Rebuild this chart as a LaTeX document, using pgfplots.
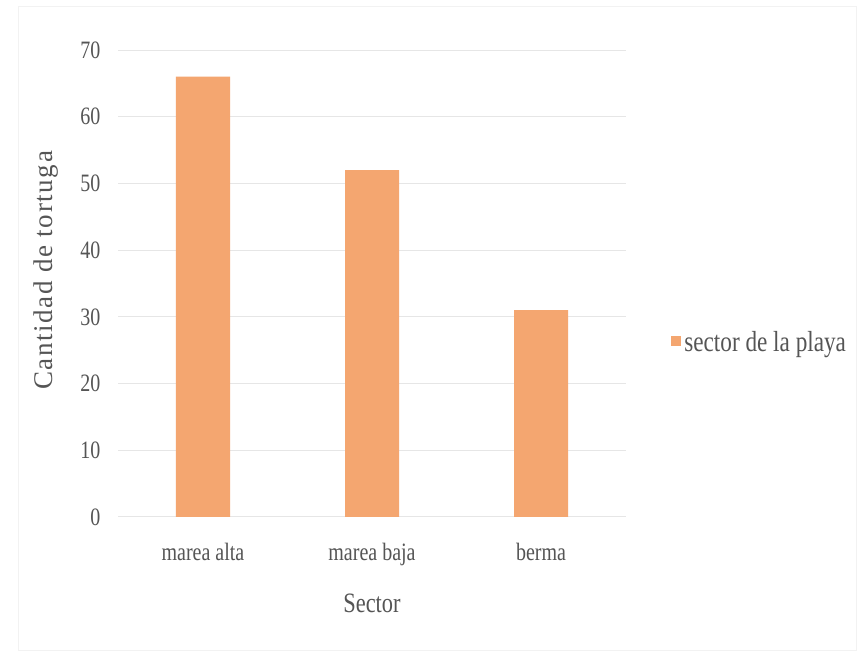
\documentclass[border=0pt]{standalone}
\usepackage{fontspec}
\setmainfont{Liberation Serif}[FakeStretch=0.8]
\newfontfamily\ylabfont{Liberation Serif}[LetterSpace=6]
\usepackage{pgfplots}
\pgfplotsset{compat=1.18}
\definecolor{barorange}{RGB}{244,166,112}
\definecolor{txtgray}{RGB}{85,85,85}
\definecolor{gridgray}{RGB}{230,230,230}
\begin{document}
\begin{tikzpicture}[x=1pt,y=1pt]
\path[use as bounding box, fill=white] (0,0) rectangle (859,658);
\draw[gray!10] (18,8) rectangle (856,652);
\begin{axis}[
  at={(118.5pt,141pt)}, anchor=south west,
  scale only axis, width=507pt, height=467pt,
  ybar, bar width=54pt,
  xmin=-0.5, xmax=2.5, ymin=0, ymax=70,
  xtick={0,1,2}, xticklabels={marea alta, marea baja, berma},
  ytick={0,10,...,70},
  /pgf/number format/assume math mode=true,
  axis line style={draw=none},
  major tick length=0pt,
  ymajorgrids, grid style={gridgray, line width=1pt},
  yticklabel style={font=\fontsize{25}{30}\selectfont, text=txtgray, anchor=east, inner sep=0pt, xshift=-18pt},
  xticklabel style={font=\fontsize{25}{30}\selectfont, text=txtgray, anchor=north, inner sep=0pt, yshift=-26pt},
  xlabel={Sector},
  xlabel style={font=\fontsize{28}{32}\selectfont, text=txtgray, at={(axis description cs:0.5,-0.184)}, anchor=center},
  ylabel={Cantidad de tortuga},
  ylabel style={font=\ylabfont\fontsize{27}{32}\selectfont, text=txtgray, at={(axis description cs:-0.143,0.528)}, anchor=center},
  legend style={at={(axis description cs:1.09,0.375)}, anchor=west, draw=none, fill=none,
    font=\fontsize{29}{32}\selectfont, text=txtgray, inner sep=0pt, nodes={inner sep=3pt}},
  legend image code/.code={\fill[barorange] (0pt,-4pt) rectangle (10pt,6pt);},
]
\addplot[fill=barorange, draw=none] coordinates {(0,66) (1,52) (2,31)};
\addlegendentry{sector de la playa}
\end{axis}
\end{tikzpicture}
\end{document}
